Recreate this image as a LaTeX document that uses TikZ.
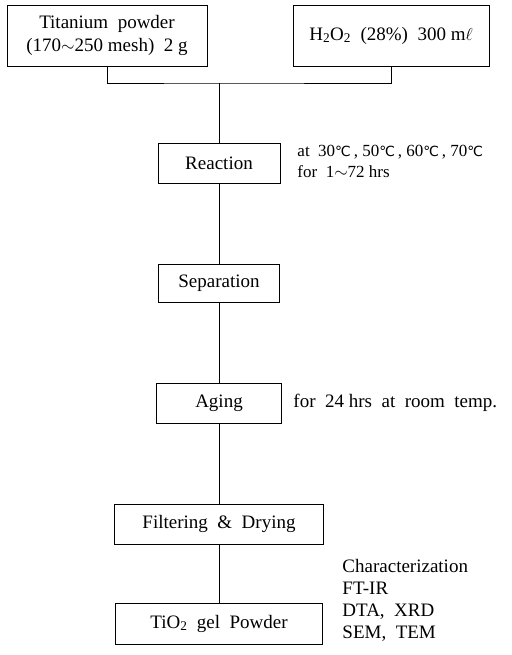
\documentclass[tikz,border=0pt]{standalone}
\usepackage{fontspec}
\setmainfont{Liberation Serif}
\newfontfamily\symfont{DejaVu Sans}
\newcommand{\degc}{{\symfont\fontsize{14}{19}\selectfont ℃}}
\usepackage{tikz}
\usetikzlibrary{positioning}
\tikzstyle{stepbox}=[draw,line width=0.9pt,rectangle,inner sep=0pt,align=center]
\tikzstyle{notestyle}=[anchor=west,align=left,inner sep=0pt]

\begin{document}
\begin{tikzpicture}[x=1pt,y=-1pt,font=\fontsize{19}{21}\selectfont]
	\tikzstyle{every path}=[line width=0.9pt]
	\useasboundingbox (0,0) rectangle (511,655);

	\node[stepbox,minimum width=200pt,minimum height=61pt] (ti) at (107,35.5) {Titanium\ \ powder\\[2pt](170$\sim$250 mesh)\ \ 2 g};
	\node[stepbox,minimum width=196pt,minimum height=61pt] (hp) at (391,35.5) {H\textsubscript{2}O\textsubscript{2}\ \ (28\%)\ \ 300 m$\ell$};
	\coordinate (jn) at (219,83);

	\node[stepbox,minimum width=122pt,minimum height=40pt] (reac) at (219,163) {Reaction};
		\node[notestyle,font=\fontsize{17}{21}\selectfont] (cond) at (297,161) {at\ \ 30\degc\,,\ 50\degc\,,\ 60\degc\,,\ 70\degc\\for\ \ 1$\sim$72 hrs};
	\node[stepbox,minimum width=121pt,minimum height=38pt] (sep) at (219,283) {Separation};
	\node[stepbox,minimum width=125pt,minimum height=40pt] (age) at (219,403) {Aging};
		\node[notestyle] (rt) at (293,403) {for\ \ 24 hrs\ \ at\ \ room\ \ temp.};
	\node[stepbox,minimum width=209pt,minimum height=40pt] (fd) at (219,524) {Filtering\ \ \&\ \ Drying};
	\node[stepbox,minimum width=207pt,minimum height=41pt] (gel) at (219,623.5) {TiO\textsubscript{2}\ \ gel\ \ Powder};
		\node[notestyle,font=\fontsize{19}{22}\selectfont] (chr) at (342,600) {Characterization\\FT-IR\\DTA,\ \ XRD\\SEM,\ \ TEM};

\draw (ti.south) |- (jn) -| (hp.south);
\draw (jn) -- (reac.north);
\draw (reac.south) -- (sep.north);
\draw (sep.south) -- (age.north);
\draw (age.south) -- (fd.north);
\draw (fd.south) -- (gel.north);

\end{tikzpicture}
\end{document}
